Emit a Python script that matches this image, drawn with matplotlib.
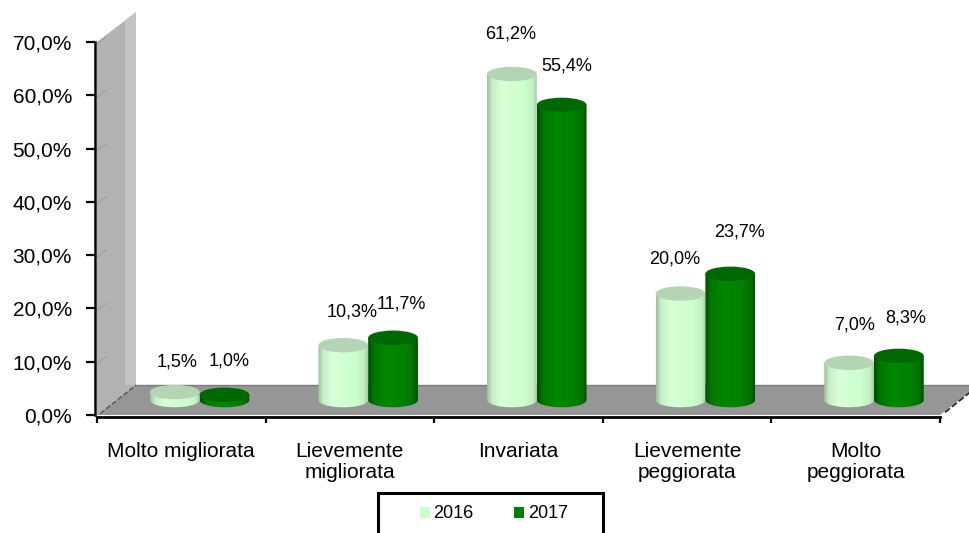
import numpy as np
import matplotlib
matplotlib.use('Agg')
import matplotlib.pyplot as plt
from matplotlib.colors import LinearSegmentedColormap
from matplotlib.patches import Ellipse, Patch, PathPatch, Polygon, Rectangle
from matplotlib.path import Path

plt.rcParams['font.family'] = ['Liberation Sans', 'DejaVu Sans']

categories = ['Molto migliorata', 'Lievemente\nmigliorata', 'Invariata',
              'Lievemente\npeggiorata', 'Molto\npeggiorata']
vals_2016 = [1.5, 10.3, 61.2, 20.0, 7.0]
vals_2017 = [1.0, 11.7, 55.4, 23.7, 8.3]
labels_2016 = ['1,5%', '10,3%', '61,2%', '20,0%', '7,0%']
labels_2017 = ['1,0%', '11,7%', '55,4%', '23,7%', '8,3%']
y_ticks = [0, 10, 20, 30, 40, 50, 60, 70]
y_tick_labels = ['0,0%', '10,0%', '20,0%', '30,0%', '40,0%', '50,0%', '60,0%', '70,0%']

W, H = 970, 533

# fake 3D geometry, in axis units
DEPTH_X = 0.231
DEPTH_Y = 5.6
BAR_W = 0.295
ELL_H = 2.7

# label offsets in points from the top of each bar
off_2016 = [(2, 22), (6, 24), (-1, 29), (-4, 25), (4, 27)]
off_2017 = [(3, 24), (6, 24), (4, 28), (7, 30), (5, 27)]

light_cmap = LinearSegmentedColormap.from_list('light', [(0, '#a0c0a0'), (0.1, '#c8f0c8'), (0.3, '#d8ffd8'),
                                                         (0.75, '#ccffcc'), (0.92, '#c4f0c4'), (1, '#a8d0a8')])
dark_cmap = LinearSegmentedColormap.from_list('dark', [(0, '#005000'), (0.12, '#007800'), (0.4, '#008800'),
                                                       (0.75, '#008000'), (0.92, '#007000'), (1, '#005000')])
grad = np.linspace(0, 1, 64).reshape(1, -1)


def draw_cylinder(ax, x, value, cmap, top_color, z):
    base = DEPTH_Y / 2
    left, right = x - BAR_W / 2, x + BAR_W / 2
    t = np.linspace(np.pi, 2 * np.pi, 40)
    arc_x = x + BAR_W / 2 * np.cos(t)
    arc_y = base + ELL_H / 2 * np.sin(t)
    verts = [(left, base + value)] + list(zip(arc_x, arc_y)) + [(right, base + value), (left, base + value)]
    codes = [Path.MOVETO] + [Path.LINETO] * (len(verts) - 2) + [Path.CLOSEPOLY]
    im = ax.imshow(grad, extent=(left, right, base - ELL_H, base + value), cmap=cmap,
                   aspect='auto', zorder=z, clip_on=True)
    im.set_clip_path(PathPatch(Path(verts, codes), transform=ax.transData))
    ax.add_patch(Ellipse((x, base + value), BAR_W, ELL_H, facecolor=top_color,
                         edgecolor='none', zorder=z + 0.1, clip_on=False))


fig = plt.figure(figsize=(W / 100, H / 100), dpi=100)
ax = fig.add_axes([97 / W, 1 - 415 / H, (940 - 97) / W, (415 - 42) / H])
ax.set_facecolor('none')

# spine position resets the ticks, so it goes first
for side in ['top', 'right']:
    ax.spines[side].set_visible(False)
ax.spines['left'].set_linewidth(1.8)
ax.spines['bottom'].set_linewidth(2)
ax.spines['left'].set_position(('outward', 1.5))
ax.spines['bottom'].set_position(('outward', 1.5))

# side wall and floor
n = len(categories)
ax.add_patch(Polygon([(0, 0), (0, 70), (DEPTH_X, 70 + DEPTH_Y), (DEPTH_X, DEPTH_Y)],
                     facecolor='#b2b2b2', edgecolor='none', zorder=1, clip_on=False))
ax.add_patch(Polygon([(DEPTH_X * 0.72, DEPTH_Y), (DEPTH_X * 0.72, 70 + DEPTH_Y * 0.72),
                      (DEPTH_X, 70 + DEPTH_Y), (DEPTH_X, DEPTH_Y)],
                     facecolor='#c4c4c4', edgecolor='none', zorder=1.1, clip_on=False))
ax.add_patch(Polygon([(0, 0), (n, 0), (n + DEPTH_X, DEPTH_Y), (DEPTH_X, DEPTH_Y)],
                     facecolor='#969696', edgecolor='none', zorder=1.2, clip_on=False))
ax.plot([DEPTH_X, n + DEPTH_X], [DEPTH_Y, DEPTH_Y], color='#7c7c7c', lw=1, zorder=1.3, clip_on=False)
ax.plot([0.02, DEPTH_X], [0.3, DEPTH_Y], color='#555555', lw=1, ls='--', zorder=1.3, clip_on=False)
ax.plot([n + 0.03, n + DEPTH_X], [0.5, DEPTH_Y], color='#222222', lw=1.2, ls='--', zorder=1.3, clip_on=False)

# faint gridline stubs on the side wall
for yt in y_ticks[1:]:
    ax.plot([0.005, 0.06], [yt - 0.3, yt + 1.1], color='#808080', lw=0.8, ls=':', zorder=1.4, clip_on=False)

for i in range(n):
    center = i + 0.5 + DEPTH_X / 2 - 0.007
    x1 = center - BAR_W / 2
    x2 = center + BAR_W / 2
    draw_cylinder(ax, x1, vals_2016[i], light_cmap, '#b4d4b4', 3)
    draw_cylinder(ax, x2, vals_2017[i], dark_cmap, '#006800', 4)
    ax.annotate(labels_2016[i], (x1, vals_2016[i] + DEPTH_Y / 2), xytext=off_2016[i], textcoords='offset points',
                ha='center', va='center', fontsize=13, annotation_clip=False, zorder=6)
    ax.annotate(labels_2017[i], (x2, vals_2017[i] + DEPTH_Y / 2), xytext=off_2017[i], textcoords='offset points',
                ha='center', va='center', fontsize=13, annotation_clip=False, zorder=6)

ax.set_xlim(0, n)
ax.set_ylim(0, 70)
ax.set_yticks(y_ticks)
ax.set_yticklabels(y_tick_labels, fontsize=15)
ax.set_xticks(range(n + 1))
ax.set_xticks([i + 0.5 for i in range(n)], minor=True)
ax.set_xticklabels([])
ax.set_xticklabels(categories, minor=True, fontsize=15, va='top', linespacing=1.15)
ax.tick_params(axis='y', length=6.5, width=1.6, pad=10)
ax.tick_params(axis='x', which='major', length=4.5, width=1.6)
ax.tick_params(axis='x', which='minor', length=0, pad=18)

# legend box runs past the bottom edge of the picture
fig.add_artist(Rectangle((378 / W, -0.02), (603 - 378) / W, 0.02 + 1 - 493 / H, transform=fig.transFigure,
                         facecolor='white', edgecolor='black', linewidth=2.2))
handles = [Patch(facecolor='#ccffcc', edgecolor='none', label='2016'),
           Patch(facecolor='#008000', edgecolor='none', label='2017')]
fig.legend(handles=handles, loc='center left', bbox_to_anchor=(420 / W, 1 - 514 / H), ncol=2,
           fontsize=13, frameon=False, borderpad=0, borderaxespad=0, handlelength=0.55, handleheight=0.55,
           handletextpad=0.2, columnspacing=2.25)

fig.savefig('out.png', dpi=100)
